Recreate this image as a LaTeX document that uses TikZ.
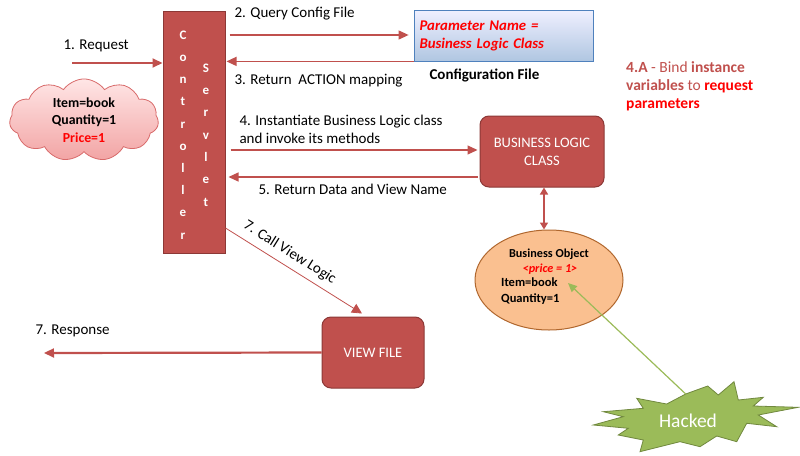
\documentclass[tikz,border=0pt]{standalone}
\usepackage{fontspec}
\setmainfont{Carlito}
\usepackage{xcolor}
\usetikzlibrary{arrows.meta,shapes.geometric,shapes.symbols}
\definecolor{mvcred}{HTML}{C0504D}
\definecolor{mvcdark}{HTML}{8C3836}
\definecolor{cfgblue}{HTML}{4F81BD}
\definecolor{cloudpink}{HTML}{F2A4A4}
\definecolor{cloudline}{HTML}{D86A6A}
\definecolor{boorange}{HTML}{FAC090}
\definecolor{boline}{HTML}{B0672E}
\definecolor{hackgreen}{HTML}{9BBB59}
\definecolor{hackline}{HTML}{71893F}
\tikzset{
  redbox/.style={draw=mvcdark, line width=1pt, fill=mvcred, text=white, rounded corners=9pt, align=center, font=\fontsize{14.5}{18}\selectfont},
  flow/.style={draw=mvcred, line width=1.2pt, -{Triangle[length=10pt,width=9pt]}},
  lbl/.style={anchor=west, font=\fontsize{15}{18}\selectfont},
}

\begin{document}
\begin{tikzpicture}[x=1pt, y=-1pt]
      \useasboundingbox (0,0) rectangle (800,455);
      % controller servlet
      \node[draw=mvcdark, line width=1pt, fill=mvcred, minimum width=62pt, minimum height=242pt] (ctrl) at (194,132) {};
      \node[text=white, align=center, font=\fontsize{13}{22.2}\selectfont\bfseries] (ctrlA) at (183,135) {C\\o\\n\\t\\r\\o\\l\\l\\e\\r};
      \node[text=white, align=center, font=\fontsize{13}{22.3}\selectfont\bfseries] (ctrlB) at (206,135) {S\\e\\r\\v\\l\\e\\t};
      % configuration file
      \node[draw=cfgblue, line width=0.8pt, top color=blue!6, bottom color=cfgblue!45, minimum width=179pt, minimum height=51pt, text width=168pt, align=left, text=red, font=\fontsize{14.8}{18}\selectfont\bfseries\itshape] (cfg) at (503.5,35.5) {Parameter Name =\\Business Logic Class};
      \node[anchor=west, font=\fontsize{15}{18}\selectfont\bfseries] (cfgname) at (426,75) {Configuration File};
      % request data
      \node[cloud, cloud puffs=11, cloud puff arc=110, aspect=2.3, draw=cloudline, line width=0.8pt, top color=red!10, bottom color=cloudpink, minimum width=140pt, minimum height=60pt, inner sep=0pt, align=center, font=\fontsize{13.8}{17.5}\selectfont\bfseries] (req) at (84,120) {Item=book\\Quantity=1\\\textcolor{red}{Price=1}};
      \node[redbox, minimum width=124pt, minimum height=71pt] (blc) at (542,151.5) {BUSINESS LOGIC\\CLASS};
      \node[redbox, minimum width=102pt, minimum height=71pt] (view) at (373,352.5) {VIEW FILE};
      % business object
      \node[ellipse, draw=boline, line width=1pt, fill=boorange, minimum width=148pt, minimum height=100pt] (bo) at (549,280) {};
      \node[font=\fontsize{12.2}{14}\selectfont\bfseries] (botitle) at (549,254) {Business Object};
      \node[text=red, font=\fontsize{12.2}{14}\selectfont\bfseries\itshape] (boprice) at (550,269) {<price = 1>};
      \node[anchor=west, align=left, inner sep=0pt, font=\fontsize{12.5}{16}\selectfont\bfseries] (bovals) at (501,291) {Item=book\\Quantity=1};
      % note 4.A
      \node[anchor=north west, align=left, inner sep=0pt, text=mvcred, font=\fontsize{15.5}{18}\selectfont] (bind) at (626,61) {\textbf{4.A} - Bind \textbf{instance}\\\textbf{variables} to \textbf{\textcolor{red}{request}}\\\textbf{\textcolor{red}{parameters}}};
      % hacked star
      \draw[fill=hackgreen, draw=hackline, line width=0.8pt] (685.7,394) -- (707.7,386) -- (718.3,395) -- (734,381.7) -- (738.3,400) -- (763.3,397.3) -- (753.3,406) -- (798.3,407.3) -- (758.3,415) -- (776.7,426.7) -- (746.7,423.3) -- (736.7,441.7) -- (716.7,436) -- (700,446.7) -- (680,441.7) -- (640,451.7) -- (643.3,440) -- (618.3,435) -- (628.3,428.3) -- (593.3,425) -- (623.3,416.7) -- (603.3,411.7) -- (643.3,408.3) -- (636.7,398.3) -- (666.7,404) -- cycle;
      \node[text=white, font=\fontsize{19.5}{22}\selectfont] (hack) at (688,421) {Hacked};
      \coordinate (hacktip) at (685.7,394);
      % connectors
      \coordinate (reqstart) at (72,63);
      \draw[flow, line width=1.8pt] (reqstart) -- (ctrl.west |- reqstart);
      \node[lbl] (reqlbl) at (60,46) {1. Request};
      \draw[flow] ([xshift=4pt]ctrl.east |- 0,35) -- ([xshift=-5pt]cfg.west |- 0,35);
      \node[lbl] (qlbl) at (231,14) {2. Query Config File};
      \draw[flow] (cfg.south west) -- ([xshift=1pt]ctrl.east |- cfg.south west);
      \node[lbl] (retlbl) at (231,81) {3. Return~ ACTION mapping};
      \draw[flow] ([xshift=5pt]ctrl.east |- 0,150) -- ([xshift=-2pt]blc.west |- 0,150);
      \node[lbl, align=left] (instlbl) at (236,129) {4. Instantiate Business Logic class\\and invoke its methods};
      \draw[flow] ([xshift=-2pt]blc.west |- 0,177) -- ([xshift=3pt]ctrl.east |- 0,177);
      \node[lbl] (datalbl) at (255,189) {5. Return Data and View Name};
      \draw[draw=mvcred, line width=1.5pt, {Triangle[length=7pt,width=8pt]}-{Triangle[length=7pt,width=8pt]}] ([xshift=2pt]blc.south) -- ([xshift=-5pt]bo.north);
      \draw[draw=mvcred, line width=0.8pt, -{Triangle[length=10pt,width=10pt]}] (ctrl.east |- 0,228) -- node[pos=0.42, sloped, above=3pt, font=\fontsize{15}{18}\selectfont] (calllbl) {7. Call View Logic} ([xshift=-11pt,yshift=3pt]view.north);
      \coordinate (respend) at (44,353);
      \draw[flow, line width=2.2pt] (view.west) -- (respend);
      \node[lbl] (resplbl) at (32,331) {7. Response};
      \draw[draw=hackgreen, line width=1.2pt, -{Triangle[length=9pt,width=8pt]}] (hacktip) -- ([xshift=19pt,yshift=-3pt]bo.center);
    \end{tikzpicture}
\end{document}
